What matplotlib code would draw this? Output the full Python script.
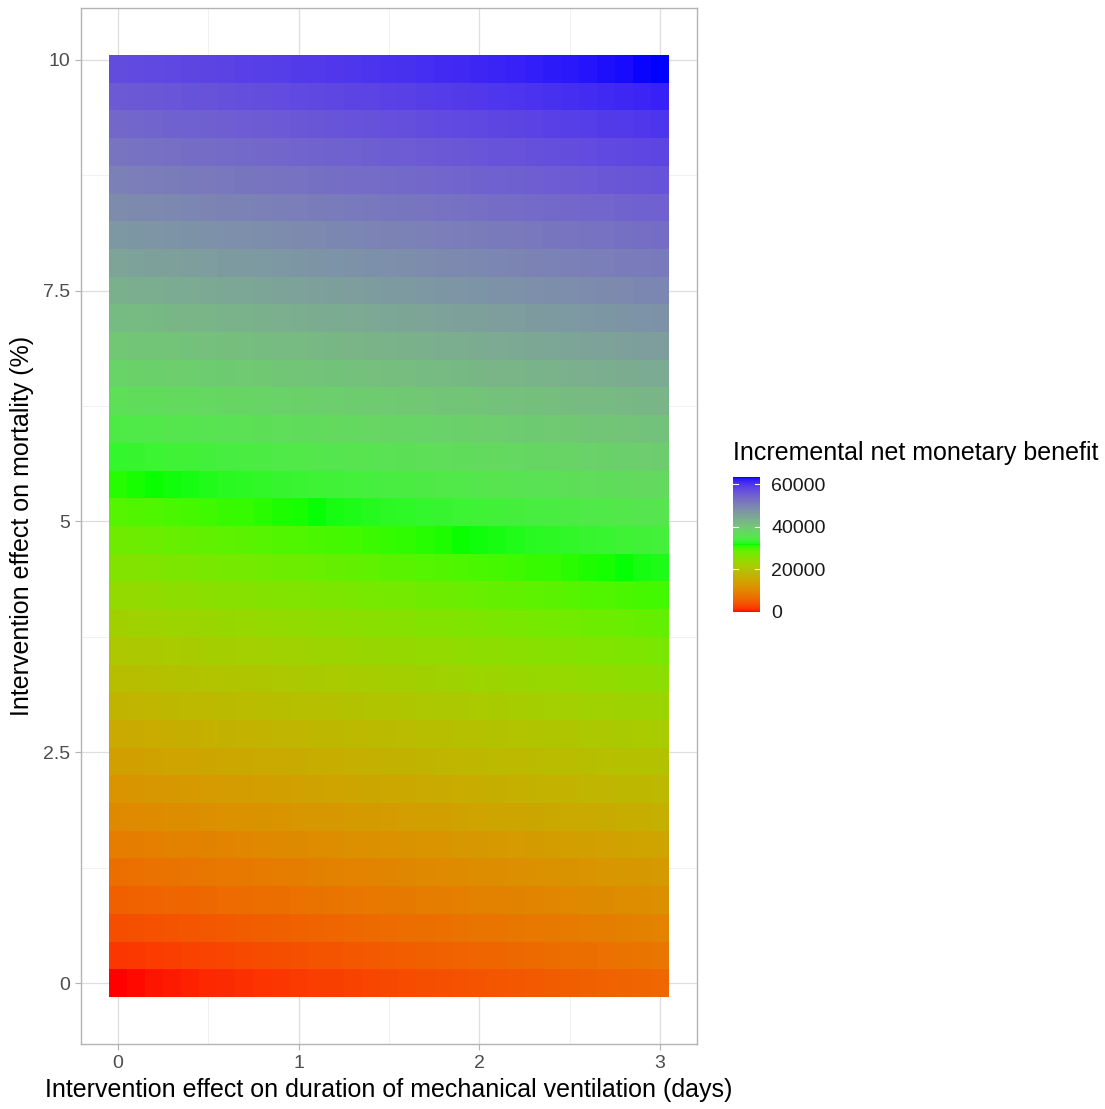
import numpy as np
import matplotlib
matplotlib.use("Agg")
import matplotlib.pyplot as plt
from matplotlib.colors import ListedColormap, Normalize

plt.rcParams['font.family'] = ['Liberation Sans', 'DejaVu Sans']

# days of mechanical ventilation saved (tile centres)
vent_days = [0.0, 0.1, 0.2, 0.3, 0.4, 0.5, 0.6, 0.7, 0.8, 0.9,
             1.0, 1.1, 1.2, 1.3, 1.4, 1.5, 1.6, 1.7, 1.8, 1.9,
             2.0, 2.1, 2.2, 2.3, 2.4, 2.5, 2.6, 2.7, 2.8, 2.9, 3.0]
# mortality reduction in % (tile centres)
mort_pct = [0.0, 0.3, 0.6, 0.9, 1.2, 1.5, 1.8, 2.1, 2.4, 2.7,
            3.0, 3.3, 3.6, 3.9, 4.2, 4.5, 4.8, 5.1, 5.4, 5.7,
            6.0, 6.3, 6.6, 6.9, 7.2, 7.5, 7.8, 8.1, 8.4, 8.7,
            9.0, 9.3, 9.6, 9.9]

# INMB contribution: per mortality row (at 0 days)
mort_inmb = [0, 1740, 3480, 5220, 6950, 8690, 10430, 12170, 13910, 15650,
             17390, 19120, 20860, 22600, 24340, 26080, 27820, 29560, 31300, 33030,
             34770, 36510, 38250, 39990, 41730, 43470, 45200, 46940, 48680, 50420,
             52160, 53900, 55640, 57370]
# and extra INMB per ventilation column
vent_inmb = [0, 205, 410, 615, 820, 1020, 1230, 1430, 1640, 1840,
             2045, 2250, 2450, 2660, 2860, 3070, 3270, 3480, 3680, 3890,
             4090, 4300, 4500, 4700, 4910, 5110, 5320, 5520, 5730, 5930, 6135]

inmb = np.add.outer(np.array(mort_inmb), np.array(vent_inmb))


# red -> green -> blue gradient interpolated in Lab space (like ggplot)
def srgb_to_lab(c):
    c = np.asarray(c, float)
    lin = np.where(c <= 0.04045, c / 12.92, ((c + 0.055) / 1.055) ** 2.4)
    M = np.array([[0.4124, 0.3576, 0.1805],
                  [0.2126, 0.7152, 0.0722],
                  [0.0193, 0.1192, 0.9505]])
    xyz = lin @ M.T / np.array([0.95047, 1.0, 1.08883])
    f = np.where(xyz > 0.008856, np.cbrt(xyz), 7.787 * xyz + 16 / 116)
    return np.stack([116 * f[..., 1] - 16, 500 * (f[..., 0] - f[..., 1]),
                     200 * (f[..., 1] - f[..., 2])], axis=-1)


def lab_to_srgb(lab):
    L, a, b = lab[..., 0], lab[..., 1], lab[..., 2]
    fy = (L + 16) / 116
    fx = fy + a / 500
    fz = fy - b / 200
    f = np.stack([fx, fy, fz], axis=-1)
    xyz = np.where(f > 0.2069, f ** 3, (f - 16 / 116) / 7.787)
    xyz = xyz * np.array([0.95047, 1.0, 1.08883])
    Minv = np.array([[3.2406, -1.5372, -0.4986],
                     [-0.9689, 1.8758, 0.0415],
                     [0.0557, -0.2040, 1.0570]])
    lin = np.clip(xyz @ Minv.T, 0, None)
    c = np.where(lin <= 0.0031308, 12.92 * lin, 1.055 * lin ** (1 / 2.4) - 0.055)
    return np.clip(c, 0, 1)


stops = srgb_to_lab([[1, 0, 0], [0, 1, 0], [0, 0, 1]])
t = np.linspace(0, 1, 512)
seg = np.minimum((t * 2).astype(int), 1)
frac = (t * 2 - seg)[:, None]
labs = stops[seg] * (1 - frac) + stops[seg + 1] * frac
cmap = ListedColormap(lab_to_srgb(labs))
norm = Normalize(vmin=inmb.min(), vmax=inmb.max())

fig = plt.figure(figsize=(11.05, 11.09), dpi=100)
ax = fig.add_axes([0.0733, 0.0586, 0.5575, 0.9342])

ax.pcolormesh(vent_days, mort_pct, inmb, cmap=cmap, norm=norm,
              shading='nearest', edgecolor='face', linewidth=0, zorder=2)

ax.set_xlim(-0.205, 3.205)
ax.set_ylim(-0.66, 10.56)
ax.set_xticks([0, 1, 2, 3])
ax.set_xticklabels(['0', '1', '2', '3'])
ax.set_yticks([0, 2.5, 5, 7.5, 10])
ax.set_yticklabels(['0', '2.5', '5', '7.5', '10'])
ax.set_xticks([0.5, 1.5, 2.5], minor=True)
ax.set_yticks([1.25, 3.75, 6.25, 8.75], minor=True)
ax.grid(True, which='major', color='#dedede', lw=0.9, zorder=0)
ax.grid(True, which='minor', color='#ececec', lw=0.5, zorder=0)
ax.set_axisbelow(True)
for s in ax.spines.values():
    s.set_color('#b3b3b3')
    s.set_linewidth(1.0)
ax.tick_params(which='major', length=4, color='#b3b3b3', labelsize=14,
               labelcolor='#4d4d4d', pad=4)
ax.tick_params(which='minor', length=0)

ax.set_xlabel('Intervention effect on duration of mechanical ventilation (days)',
              fontsize=18, color='black', labelpad=4)
ax.set_ylabel('Intervention effect on mortality (%)', fontsize=18,
              color='black', labelpad=6)

# colour bar legend
cax = fig.add_axes([0.6633, 0.4482, 0.0244, 0.1217])
cb = fig.colorbar(plt.cm.ScalarMappable(norm=norm, cmap=cmap), cax=cax)
cb.outline.set_visible(False)
cb.set_ticks([0, 20000, 40000, 60000])
cax.tick_params(length=0, labelsize=14, labelcolor='#1a1a1a', pad=8)
for v in [0, 20000, 40000, 60000]:
    cax.plot([0, 0.2], [v, v], color='white', lw=0.8, transform=cax.get_yaxis_transform())
    cax.plot([0.8, 1], [v, v], color='white', lw=0.8, transform=cax.get_yaxis_transform())
fig.text(0.6633, 0.5915, 'Incremental net monetary benefit', fontsize=18,
         ha='left', va='center', color='black')

plt.savefig('out.png', dpi=100)
